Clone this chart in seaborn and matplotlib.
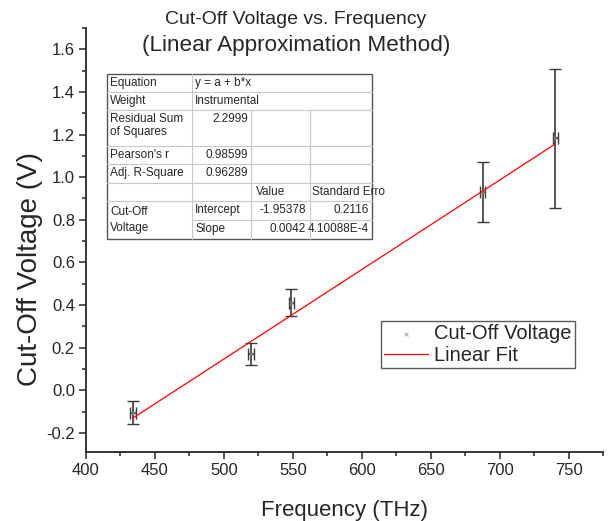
import numpy as np
import pandas as pd
import matplotlib
matplotlib.use("Agg")
import matplotlib.pyplot as plt
from matplotlib.ticker import MultipleLocator
import seaborn as sns

# Measured cut-off voltages for each filter frequency
freq = [434.0, 519.5, 549.0, 687.7, 740.5]          # THz
voltage = [-0.105, 0.168, 0.41, 0.93, 1.182]        # V
voltage_err = [0.055, 0.052, 0.063, 0.14, 0.325]    # V
freq_err = [2.0, 2.0, 2.0, 2.0, 2.0]                # THz

# Fit results (Origin, instrumental weighting)
intercept = -1.95378
slope = 0.0042
fit_rows = [
    ("Equation", "y = a + b*x"),
    ("Weight", "Instrumental"),
    ("Residual Sum\nof Squares", "2.2999"),
    ("Pearson's r", "0.98599"),
    ("Adj. R-Square", "0.96289"),
]
param_names = ["Intercept", "Slope"]
param_values = ["-1.95378", "0.0042"]
param_errors = ["0.2116", "4.10088E-4"]

df = pd.DataFrame({"freq": freq, "voltage": voltage})
fit_x = np.array([min(freq), max(freq)])
fit_df = pd.DataFrame({"freq": fit_x, "voltage": intercept + slope * fit_x})

sns.set_style("ticks")
plt.rcParams["font.family"] = ["Liberation Sans", "DejaVu Sans"]

fig = plt.figure(figsize=(6.12, 5.21), dpi=100)
ax = fig.add_axes([86 / 612, 69 / 521, 517 / 612, 424 / 521])

ax.errorbar(freq, voltage, yerr=voltage_err, xerr=freq_err, fmt="none",
            ecolor="#3a3a3a", elinewidth=1.2, capsize=4, capthick=1.0, zorder=2)
sns.scatterplot(data=df, x="freq", y="voltage", ax=ax, marker="x", s=8,
                color="#999999", linewidth=0.6, label="Cut-Off Voltage", zorder=3)
sns.lineplot(data=fit_df, x="freq", y="voltage", ax=ax, color="red",
             linewidth=0.9, label="Linear Fit", zorder=4)

ax.set_xlim(400, 775)
ax.set_ylim(-0.29, 1.70)
ax.xaxis.set_major_locator(MultipleLocator(50))
ax.xaxis.set_minor_locator(MultipleLocator(25))
ax.yaxis.set_minor_locator(MultipleLocator(0.1))
ax.set_yticks(np.arange(-0.2, 1.61, 0.2))
ax.set_yticklabels([f"{v:.1f}" for v in np.arange(-0.2, 1.61, 0.2)])
ax.tick_params(which="major", length=5, width=1.1, labelsize=12, pad=3)
ax.tick_params(which="minor", length=3, width=1.1)
sns.despine(ax=ax)
for s in ["left", "bottom"]:
    ax.spines[s].set_linewidth(1.3)

ax.set_xlabel("Frequency (THz)", fontsize=16, labelpad=16)
ax.set_ylabel("")
fig.text(30 / 612, 1 - 269 / 521, "Cut-Off Voltage (V)", rotation=90,
         ha="center", va="center", fontsize=20)
fig.text(296 / 612, 1 - 20 / 521, "Cut-Off Voltage vs. Frequency",
         ha="center", va="center", fontsize=14)
fig.text(296 / 612, 1 - 46 / 521, "(Linear Approximation Method)",
         ha="center", va="center", fontsize=16.2)

leg = ax.legend(loc="upper left", bbox_to_anchor=(295 / 517, 131 / 424),
                borderaxespad=0, fontsize=14.5, frameon=True, fancybox=False,
                handlelength=2.2, handletextpad=0.3, labelspacing=0.15,
                borderpad=0.15, markerscale=1.0)
leg.get_frame().set_edgecolor("#333333")
leg.get_frame().set_linewidth(1.0)

# Fit-results table, drawn on an overlay in pixel coordinates
ov = fig.add_axes([0, 0, 1, 1], facecolor="none")
ov.set_xlim(0, 612)
ov.set_ylim(521, 0)
ov.axis("off")
cols = [107, 192, 251, 310, 372]
rows = [74, 92, 110, 146, 164, 183, 201, 220, 239]
ov.add_patch(plt.Rectangle((cols[0], rows[0]), cols[-1] - cols[0], rows[-1] - rows[0],
                           facecolor="white", edgecolor="#555555", linewidth=1.0, zorder=1))
light = dict(color="#c8c8c8", linewidth=0.8, zorder=2)
for i, y in enumerate(rows[1:-1], start=1):
    x_start = cols[1] if i == 7 else cols[0]
    ov.plot([x_start, cols[-1]], [y, y], **light)
ov.plot([cols[1], cols[1]], [rows[0], rows[-1]], **light)
for x in cols[2:4]:
    ov.plot([x, x], [rows[2], rows[-1]], **light)

fs = 8.5
for i, (name, val) in enumerate(fit_rows):
    top = rows[i]
    ov.text(cols[0] + 3, top + 3, name, ha="left", va="top", fontsize=fs, linespacing=1.1)
    if i < 2:
        ov.text(cols[1] + 3, top + 3, val, ha="left", va="top", fontsize=fs)
    else:
        ov.text(cols[2] - 3, top + 3, val, ha="right", va="top", fontsize=fs)
ov.text(cols[2] + 5, rows[5] + 3, "Value", ha="left", va="top", fontsize=fs)
ov.text(cols[3] + 2, rows[5] + 3, "Standard Erro", ha="left", va="top", fontsize=fs)
ov.text(cols[0] + 3, rows[6] + 5, "Cut-Off\nVoltage", ha="left", va="top",
        fontsize=fs, linespacing=1.4)
for j in range(2):
    top = rows[6 + j]
    ov.text(cols[1] + 3, top + 3, param_names[j], ha="left", va="top", fontsize=fs)
    ov.text(cols[3] - 4, top + 3, param_values[j], ha="right", va="top", fontsize=fs)
    ov.text(cols[4] - 3, top + 3, param_errors[j], ha="right", va="top", fontsize=fs)

fig.savefig("out.png", dpi=100)
